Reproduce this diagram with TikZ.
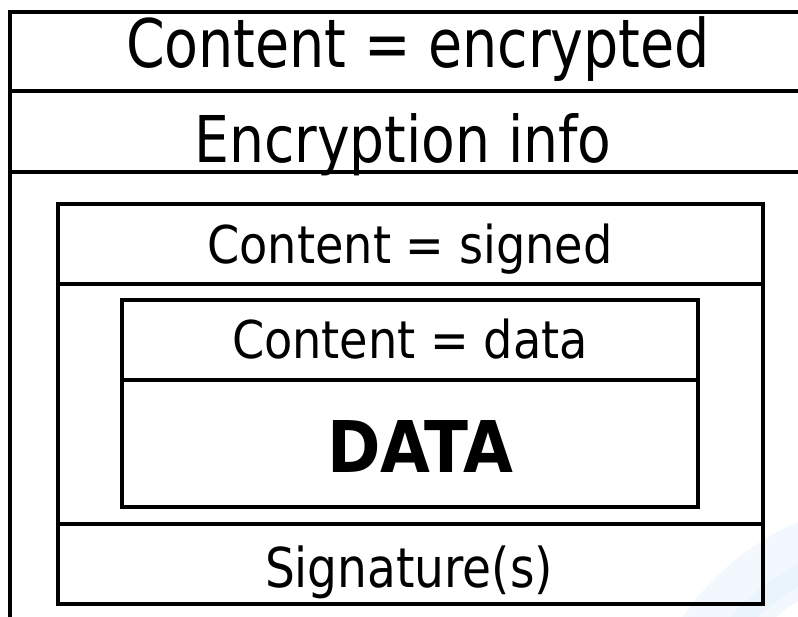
\documentclass[tikz,border=0pt]{standalone}
\usepackage{fontspec}
\setmainfont{DejaVu Sans Condensed}
\usepackage{graphicx}

% Stretch a label horizontally so that it spans a given width (in pt)
\newlength\labelwd
\newcommand\fitlabel[2]{\settowidth\labelwd{#2}\pgfmathsetmacro\labelsx{#1/\labelwd}\scalebox{\labelsx}[1]{#2}}

\definecolor{swooshA}{RGB}{242,248,253}
\definecolor{swooshB}{RGB}{234,244,252}

\tikzset{
  frame/.style={draw=black, line width=3.5pt},
  lbl/.style={anchor=base, inner sep=0pt},
}

\begin{document}
\begin{tikzpicture}[x=1pt, y=-1pt]
  \useasboundingbox (0,0) rectangle (798,616);
  \clip (0,0) rectangle (798,616);
  \fill[white] (0,0) rectangle (798,616);

  % faint background swoosh in the lower right corner
  \draw[swooshA, line width=70pt] (905,770) circle [radius=235pt];
  \draw[swooshB, line width=20pt] (905,770) circle [radius=222pt];

  % enveloped (encrypted) content: open frame running off the page
  \draw[frame] (10,620) -- (10,12) -- (802,12);
  \draw[frame] (10,91) -- (802,91);
  \draw[frame] (10,172) -- (802,172);

  % signed content
  \draw[frame] (58,204) rectangle (763,604);
  \draw[frame] (58,284) -- (763,284);
  \draw[frame] (58,524) -- (763,524);

  % data content
  \draw[frame] (122,300) rectangle (698,507);
  \draw[frame] (122,380) -- (698,380);

  % labels
  \node[lbl, font=\fontsize{67}{80}\selectfont] (enc) at (418,67)
    {\fitlabel{584}{Content = encrypted}};
  \node[lbl, font=\fontsize{64.5}{76}\selectfont] (encinfo) at (403,162)
    {\fitlabel{417}{Encryption info}};
  \node[lbl, font=\fontsize{52.1}{62}\selectfont] (signed) at (410,263)
    {\fitlabel{405}{Content = signed}};
  \node[lbl, font=\fontsize{52.1}{62}\selectfont] (data) at (410,358)
    {\fitlabel{356}{Content = data}};
  \node[lbl, font=\fontsize{71.3}{84}\selectfont\bfseries] (payload) at (420,472)
    {\fitlabel{186}{DATA}};
  \node[lbl, font=\fontsize{54.9}{64}\selectfont] (sig) at (409,587)
    {\fitlabel{288}{Signature(s)}};
\end{tikzpicture}
\end{document}
